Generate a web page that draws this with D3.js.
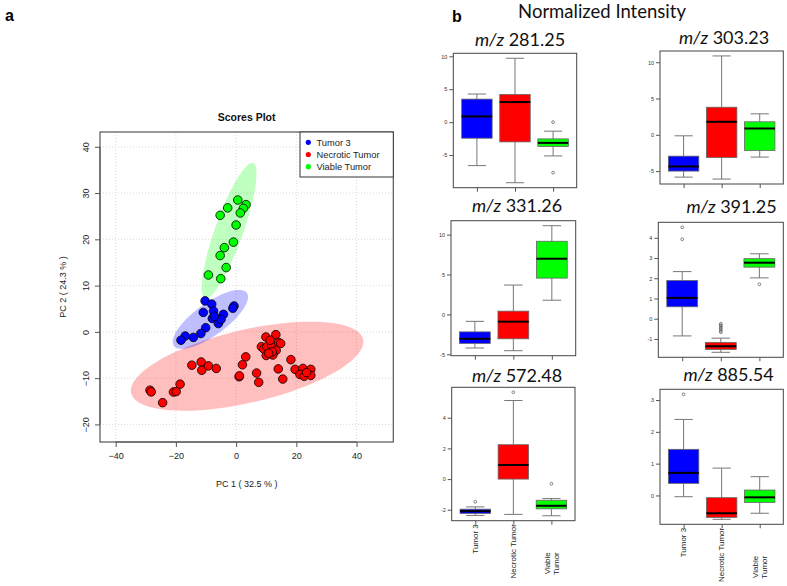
<!DOCTYPE html>
<html><head><meta charset="utf-8">
<script src="https://cdn.jsdelivr.net/npm/d3@7"></script>
<style>
body{margin:0;background:#fff}
svg{display:block}
text{font-family:"Liberation Sans",Arial,sans-serif}
.cal{font-family:Lato,"Open Sans",sans-serif}
</style>
</head><body>
<svg id="c" width="787" height="586"></svg>
<script>
// ---------- DATA ----------
const groups = ["Tumor 3", "Necrotic Tumor", "Viable Tumor"];

const tumor3PC1 = [-10.3,-8.1,-10.9,-7.5,-4.2,-7.9,-5.9,-5.0,-0.7,-1.1,-10.1,-11.7,-14.2,-16.9,-18.3,-7.2];
const tumor3PC2 = [6.7,6.0,4.2,4.5,3.8,2.9,1.8,2.7,5.6,5.1,0.9,-0.35,-1.2,-0.9,-1.8,3.4];

const necroticPC1 = [-28.6,-28.2,-24.4,-20.8,-19.9,-18.6,-14.7,-11.6,-11.4,-9.2,-6.6,1.0,1.1,2.1,3.2,6.8,7.5,9.9,13.2,8.4,9.2,10.2,11.8,14.1,14.8,13.3,12.2,10.0,11.3,12.0,10.8,18.2,14.0,15.5,19.6,22.2,24.8,21.2,22.6,24.8,23.4];
const necroticPC2 = [-12.6,-12.97,-15.3,-13.0,-12.9,-11.3,-7.2,-6.5,-8.3,-7.35,-7.9,-9.7,-9.5,-7.1,-5.4,-8.9,-10.9,-1.1,-0.6,-3.2,-3.7,-3.2,-2.9,-2.3,-2.5,-4.0,-5.0,-5.1,-1.8,-4.3,-4.6,-6.0,-8.0,-10.2,-8.1,-7.9,-8.1,-9.2,-9.6,-9.4,-8.8];

const viablePC1 = [0.55,3.3,2.4,-2.8,-5.3,1.4,0,-0.9,-3.9,-5.3,-3.3,-9.2,-5.1];
const viablePC2 = [28.5,27.5,26.7,26.8,25.2,25.7,23.1,19.4,18.2,16.5,13.9,12.3,11.5];

// confidence ellipses: [centerX, centerY, majorHalfX, majorHalfY, minorHalfX, minorHalfY]
const ellipseTumor3   = [-8.54, 2.7, 12.1, 5.72, 3.12, -2.8];
const ellipseNecrotic = [3.65, -7.42, 38.5, 5.82, 2.73, -7.67];
const ellipseViable   = [-2.33, 21.9, 7.97, 14.6, 4.39, -1.02];

const pcXTicks = [-40, -20, 0, 20, 40];
const pcYTicks = [-20, -10, 0, 10, 20, 30, 40];

// box plots: per group [lower whisker, Q1, median, Q3, upper whisker]
const mzLabels = ["281.25", "303.23", "331.26", "391.25", "572.48", "885.54"];
const stats281 = [[-6.6,-2.44,0.86,3.5,4.27],[-9.2,-3.0,3.05,4.2,9.7],[-5.13,-3.7,-3.15,-2.54,-1.37]];
const out281 = [[],[],[0.0,-7.67]];
const stats303 = [[-5.83,-5.0,-4.36,-2.94,-0.14],[-6.1,-3.12,1.79,3.8,10.87],[-3.07,-2.16,0.87,1.79,2.89]];
const out303 = [[],[],[]];
const stats331 = [[-4.21,-3.64,-3.06,-2.19,-0.87],[-4.55,-3.06,-0.91,0.41,3.68],[1.78,4.55,6.98,9.17,11.12]];
const out331 = [[],[],[]];
const stats391 = [[-0.85,0.59,1.03,1.89,2.33],[-1.66,-1.52,-1.36,-1.17,-0.96],[2.02,2.55,2.77,2.97,3.21]];
const out391 = [[4.52,3.93],[-0.25,-0.32,-0.38,-0.45,-0.52,-0.6,-0.67],[1.70]];
const stats572 = [[-2.37,-2.24,-2.09,-1.96,-1.81],[-2.30,0,0.92,2.24,5.12],[-2.39,-1.94,-1.74,-1.38,-1.27]];
const out572 = [[-1.48],[5.66],[-0.30]];
const stats885 = [[-0.04,0.38,0.71,1.45,2.39],[-0.75,-0.69,-0.56,-0.07,0.86],[-0.56,-0.22,-0.06,0.17,0.59]];
const out885 = [[3.18],[],[]];

const ticks281 = [-5, 0, 5, 10];
const ticks303 = [-5, 0, 5, 10];
const ticks331 = [-5, 0, 5, 10];
const ticks391 = [-1, 0, 1, 2, 3, 4];
const ticks572 = [-2, 0, 2, 4];
const ticks885 = [0, 1, 2, 3];

// ---------- STYLE / LAYOUT ----------
const colors = ["#0000ff", "#ff0000", "#00ff00"];
const fills = ["rgba(0,0,255,0.25)", "rgba(255,0,0,0.25)", "rgba(0,255,0,0.25)"];

const svg = d3.select("#c");

// ---------- SCORES PLOT ----------
const sp = {l: 100, r: 393.3, t: 132, b: 442};
const x = d3.scaleLinear().domain([-45.2, 52.2]).range([sp.l, sp.r]);
const y = d3.scaleLinear().domain([-23.8, 43.2]).range([sp.b, sp.t]);

const gS = svg.append("g");
// grid
gS.selectAll(".gx").data(pcXTicks).join("line")
  .attr("x1", d => x(d)).attr("x2", d => x(d)).attr("y1", sp.t).attr("y2", sp.b)
  .attr("stroke", "#d0d0d0").attr("stroke-width", 0.8).attr("stroke-dasharray", "1,2");
gS.selectAll(".gy").data(pcYTicks).join("line")
  .attr("y1", d => y(d)).attr("y2", d => y(d)).attr("x1", sp.l).attr("x2", sp.r)
  .attr("stroke", "#d0d0d0").attr("stroke-width", 0.8).attr("stroke-dasharray", "1,2");

// ellipses
function ellipsePath(e) {
  const pts = d3.range(0, 361, 4).map(a => {
    const t = a * Math.PI / 180;
    return [x(e[0] + e[2] * Math.cos(t) + e[4] * Math.sin(t)),
            y(e[1] + e[3] * Math.cos(t) + e[5] * Math.sin(t))];
  });
  return d3.line()(pts) + "Z";
}
[ellipseNecrotic, ellipseTumor3, ellipseViable].forEach((e, i) => {
  const gi = [1, 0, 2][i];
  gS.append("path").attr("d", ellipsePath(e)).attr("fill", fills[gi]).attr("stroke", "none");
});

// points
const pointSets = [
  [tumor3PC1, tumor3PC2, 0],
  [necroticPC1, necroticPC2, 1],
  [viablePC1, viablePC2, 2]
];
pointSets.forEach(([px, py, gi]) => {
  gS.selectAll(null).data(px.map((v, i) => [v, py[i]])).join("circle")
    .attr("cx", d => x(d[0])).attr("cy", d => y(d[1])).attr("r", 4.3)
    .attr("fill", colors[gi]).attr("stroke", "#000").attr("stroke-width", 0.8);
});

// frame
gS.append("rect").attr("x", sp.l).attr("y", sp.t).attr("width", sp.r - sp.l).attr("height", sp.b - sp.t)
  .attr("fill", "none").attr("stroke", "#555").attr("stroke-width", 1.2);

// axes
const xAxis = d3.axisBottom(x).tickValues(pcXTicks).tickSize(5).tickPadding(6).tickSizeOuter(0);
const gx = gS.append("g").attr("transform", `translate(0,${sp.b})`).call(xAxis);
gx.select(".domain").attr("d", `M${x(-40)},0H${x(40)}`).attr("stroke", "#555");
gx.selectAll(".tick line").attr("stroke", "#555");
gx.selectAll("text").attr("font-size", 9).attr("fill", "#222").attr("font-family", "Liberation Sans, Arial");

const yAxis = d3.axisLeft(y).tickValues(pcYTicks).tickSize(5).tickSizeOuter(0);
const gy = gS.append("g").attr("transform", `translate(${sp.l},0)`).call(yAxis);
gy.select(".domain").attr("d", `M0,${y(-20)}V${y(40)}`).attr("stroke", "#555");
gy.selectAll(".tick line").attr("stroke", "#555");
gy.selectAll("text").attr("font-size", 9).attr("fill", "#222").attr("font-family", "Liberation Sans, Arial")
  .attr("text-anchor", "middle").attr("x", 0).attr("dy", 0)
  .attr("transform", "translate(-11,0) rotate(-90)");

gS.append("text").attr("x", (sp.l + sp.r) / 2).attr("y", 487).attr("text-anchor", "middle")
  .attr("font-size", 9).attr("fill", "#222").text("PC 1 ( 32.5 % )");
gS.append("text").attr("transform", `translate(66,${(sp.t + sp.b) / 2}) rotate(-90)`).attr("text-anchor", "middle")
  .attr("font-size", 9).attr("fill", "#222").text("PC 2 ( 24.3 % )");
gS.append("text").attr("x", (sp.l + sp.r) / 2).attr("y", 120.5).attr("text-anchor", "middle")
  .attr("font-size", 10.5).attr("font-weight", "bold").attr("fill", "#111").text("Scores Plot");

// legend
const lg = gS.append("g");
lg.append("rect").attr("x", 300).attr("y", sp.t).attr("width", sp.r - 300).attr("height", 45)
  .attr("fill", "#fff").attr("stroke", "#333").attr("stroke-width", 1);
groups.forEach((g, i) => {
  lg.append("circle").attr("cx", 308.3).attr("cy", 142.3 + i * 12.2).attr("r", 2.6).attr("fill", colors[i]);
  lg.append("text").attr("x", 316.5).attr("y", 145.6 + i * 12.2).attr("font-size", 9.3).attr("fill", "#222").text(g);
});

svg.append("text").attr("x", 5).attr("y", 21).attr("font-size", 16).attr("font-weight", "bold")
  .attr("font-family", "Liberation Sans, Arial").text("a");
svg.append("text").attr("x", 452).attr("y", 22).attr("font-size", 16).attr("font-weight", "bold")
  .attr("font-family", "Liberation Sans, Arial").text("b");

// ---------- BOX PLOTS ----------
svg.append("text").attr("class", "cal").attr("x", 602).attr("y", 17.5).attr("text-anchor", "middle")
  .attr("font-size", 18.5).attr("fill", "#111").text("Normalized Intensity");

const panels = [
  {s: stats281, o: out281, t: ticks281, l: 453.3, r: 576.7, top: 53.3, bot: 187.7, tx: 520, ty: 46},
  {s: stats303, o: out303, t: ticks303, l: 660, r: 783.3, top: 51, bot: 184, tx: 724, ty: 43.5},
  {s: stats331, o: out331, t: ticks331, l: 451, r: 575.7, top: 220.7, bot: 355.7, tx: 517, ty: 212},
  {s: stats391, o: out391, t: ticks391, l: 658.3, r: 783.3, top: 222.3, bot: 357.3, tx: 731.5, ty: 213},
  {s: stats572, o: out572, t: ticks572, l: 451.7, r: 575, top: 387.3, bot: 520.7, tx: 517, ty: 381.5},
  {s: stats885, o: out885, t: ticks885, l: 660, r: 783.3, top: 389.3, bot: 524.3, tx: 728.5, ty: 381}
];

panels.forEach((p, pi) => {
  const g = svg.append("g");
  const all = p.s.flat().concat(p.o.flat());
  const mn = d3.min(all), mx = d3.max(all), ext = (mx - mn) * 0.04;
  const ys = d3.scaleLinear().domain([mn - ext, mx + ext]).range([p.bot, p.top]);
  const xs = d3.scaleLinear().domain([0.38, 3.62]).range([p.l, p.r]);
  const bw = xs(1.4) - xs(0.6);
  const sw = bw * 0.6;

  p.s.forEach((st, gi) => {
    const cx = xs(gi + 1);
    // whiskers
    g.append("line").attr("x1", cx).attr("x2", cx).attr("y1", ys(st[0])).attr("y2", ys(st[1]))
      .attr("stroke", "#777").attr("stroke-width", 1);
    g.append("line").attr("x1", cx).attr("x2", cx).attr("y1", ys(st[3])).attr("y2", ys(st[4]))
      .attr("stroke", "#777").attr("stroke-width", 1);
    [st[0], st[4]].forEach(v => g.append("line").attr("x1", cx - sw / 2).attr("x2", cx + sw / 2)
      .attr("y1", ys(v)).attr("y2", ys(v)).attr("stroke", "#777").attr("stroke-width", 1));
    // box
    g.append("rect").attr("x", cx - bw / 2).attr("width", bw).attr("y", ys(st[3]))
      .attr("height", ys(st[1]) - ys(st[3])).attr("fill", colors[gi]).attr("stroke", "#666").attr("stroke-width", 0.8);
    g.append("line").attr("x1", cx - bw / 2).attr("x2", cx + bw / 2).attr("y1", ys(st[2])).attr("y2", ys(st[2]))
      .attr("stroke", "#000").attr("stroke-width", 2);
    // outliers
    g.selectAll(null).data(p.o[gi]).join("circle").attr("cx", cx).attr("cy", d => ys(d)).attr("r", 1.4)
      .attr("fill", "none").attr("stroke", "#555").attr("stroke-width", 0.7);
  });

  // frame
  g.append("rect").attr("x", p.l).attr("y", p.top).attr("width", p.r - p.l).attr("height", p.bot - p.top)
    .attr("fill", "none").attr("stroke", "#444").attr("stroke-width", 1);

  // y axis
  const ya = d3.axisLeft(ys).tickValues(p.t).tickFormat(d => String(d)).tickSize(4).tickPadding(2).tickSizeOuter(0);
  const gya = g.append("g").attr("transform", `translate(${p.l},0)`).call(ya);
  gya.select(".domain").remove();
  gya.selectAll(".tick line").attr("stroke", "#555");
  gya.selectAll("text").attr("font-size", 5.5).attr("fill", "#333").attr("font-family", "Liberation Sans, Arial");

  // x ticks
  const xa = d3.axisBottom(xs).tickValues([1, 2, 3]).tickSize(4).tickFormat("").tickSizeOuter(0);
  const gxa = g.append("g").attr("transform", `translate(0,${p.bot})`).call(xa);
  gxa.select(".domain").remove();
  gxa.selectAll(".tick line").attr("stroke", "#555");

  // title
  const tt = g.append("text").attr("class", "cal").attr("x", p.tx).attr("y", p.ty)
    .attr("text-anchor", "middle").attr("font-size", 18).attr("fill", "#111");
  tt.append("tspan").attr("font-style", "italic").text("m/z");
  tt.append("tspan").text(" " + mzLabels[pi]);

  // group labels on bottom row
  if (pi >= 4) {
    const ly = p.bot + 3.5;
    [0, 1].forEach(gi => {
      g.append("text").attr("transform", `translate(${xs(gi + 1) + 2.8},${ly}) rotate(-90)`)
        .attr("text-anchor", "end").attr("font-size", 8).attr("fill", "#222").text(groups[gi]);
    });
    const words = groups[2].split(" ");
    words.forEach((w, wi) => {
      g.append("text").attr("transform", `translate(${xs(3) - 1.8 + wi * 9.5},${ly + 28}) rotate(-90)`)
        .attr("text-anchor", "end").attr("font-size", 8).attr("fill", "#222").text(w);
    });
  }
});
</script>
</body></html>
